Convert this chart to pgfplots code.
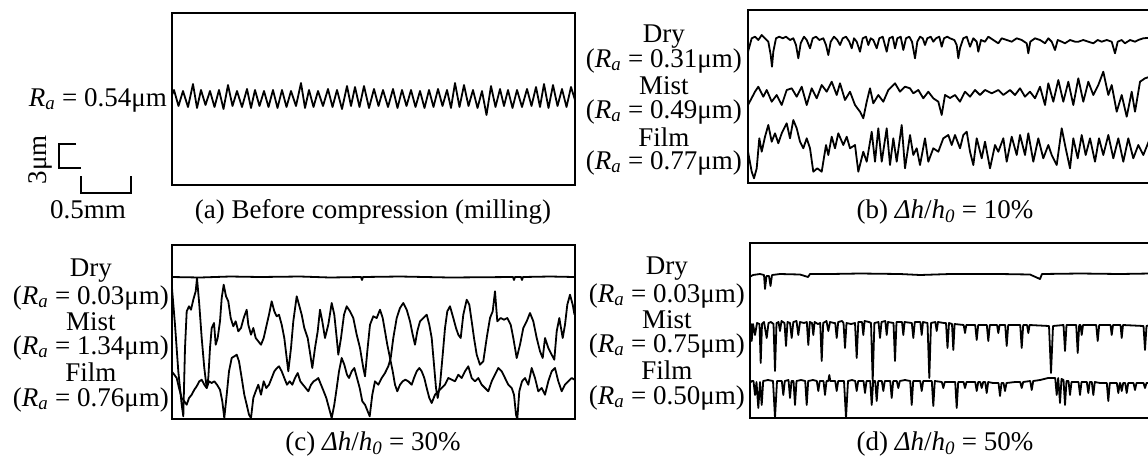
\documentclass[border=0pt]{standalone}
\usepackage{fontspec}
\setmainfont{Liberation Serif}
\usepackage{pgfplots}
\pgfplotsset{compat=1.18}

% one px of the reference = 1pt here
\pgfplotsset{
  prof/.style={scale only axis, ticks=none, y dir=reverse, clip=true,
    axis line style={line width=2pt}},
}
\tikzset{
  lab/.style={font=\fontsize{27}{30}\selectfont, inner sep=0pt},
  pl/.style={black, line width=1.8pt, line join=round, no marks},
}
\newcommand{\Ra}[1]{(\textit{R}\textsubscript{\textit{a}} = #1μm)}
\newcommand{\dhh}{\textit{Δh}/\textit{h}\textsubscript{\textit{0}}}

\begin{document}
\begin{tikzpicture}
\path[use as bounding box] (0,0) rectangle (1148pt,-461pt);

% ---------- (a) before compression
\begin{axis}[prof, at={(373.25pt,-99pt)}, anchor=center,
  width=403.5pt, height=172pt, xmin=171.5, xmax=575, ymin=13, ymax=185]
\addplot[pl] coordinates {(171.5,96) (174,90) (178.5,106) (183,91) (188,107) (193,84) (197,108) (201,90) (205.5,105) (210,91) (214.5,107) (219,90) (223.5,109) (228,85) (232.5,106) (237,91) (242,107) (247,89) (251,108) (255,90) (259.5,106) (264,91) (268.5,107) (273,90) (277.5,108) (282,90) (286.5,107) (291,91) (296,106) (301,83) (305,108) (309,90) (313.5,107) (318,91) (323,106) (328,89) (332.5,107) (337,90) (342,109) (347,86) (351,106) (355,87) (359.5,107) (364,86) (369,108) (374,89) (378.5,106) (383,90) (388,107) (393,89) (397.5,108) (402,90) (406.5,106) (411,90) (415.5,107) (420,91) (424.5,108) (429,90) (433.5,107) (438,89) (442.5,106) (447,90) (451,108) (455,83) (459.5,107) (464,85) (468.5,106) (473,90) (477.5,108) (482,91) (486.5,115) (491,86) (495.5,107) (500,89) (504,106) (508,90) (512.5,108) (517,90) (522,107) (527,89) (531.5,106) (536,87) (540,107) (544,84) (548.5,108) (553,85) (557.5,106) (562,89) (566.5,107) (571,87) (575,100)};
\end{axis}

% ---------- (b) 10%
\begin{axis}[prof, at={(949pt,-96.5pt)}, anchor=center,
  width=402pt, height=173pt, xmin=748, xmax=1150, ymin=10, ymax=183]
% dry
\addplot[pl] coordinates {(748,51.7) (751.7,38.3) (755,36.7) (758.3,40) (761.7,35) (765,38.3) (768.3,41.7) (770.7,55) (772,66.7) (773.3,51.7) (776,38.3) (779.3,36.7) (782.7,38.3) (786,36.7) (790,40) (793.3,38.3) (796,45) (798.3,58.3) (800.7,43.3) (804,36.7) (806.7,40) (810,48.3) (812.7,38.3) (816,36.7) (819.3,40) (823.3,38.3) (826,45) (828.3,55) (830.7,41.7) (834,36.7) (837.3,40) (840,45) (842.7,38.3) (846,36.7) (849.3,41.7) (851.7,48.3) (854,38.3) (856.7,41.7) (860,51.7) (862.7,38.3) (866,36.7) (868.3,45) (870.7,38.3) (873.3,40) (876.7,48.3) (879.3,38.3) (882.7,36.7) (886.7,51.7) (889.3,38.3) (892.7,36.7) (895,48.3) (897.3,38.3) (900.7,36.7) (903.3,50) (906,38.3) (909.3,36.7) (912,41.7) (915,58.3) (917.3,41.7) (920,36.7) (922.7,38.3) (925,45) (927.3,38.3) (930.7,36.7) (933.3,41.7) (936,38.3) (939.3,36.7) (941.7,46.7) (944,38.3) (947.3,36.7) (950,38.3) (954.3,40) (956.7,45) (958.3,58.3) (960,48.3) (963.3,38.3) (966.7,36.7) (970,46.7) (973.3,38.3) (976.7,41.7) (978.3,51.7) (981,40) (985,41.7) (988.3,36.7) (993.3,40) (998.3,43.3) (1001.7,38.3) (1006.7,40) (1011.7,41.7) (1016.7,38.3) (1021.7,40) (1026.7,43.3) (1028.3,53.3) (1030.3,41.7) (1035,38.3) (1040,40) (1045,43.3) (1048.3,38.3) (1051.7,41.7) (1055,50) (1057.7,40) (1061.7,41.7) (1065,43.3) (1070,40) (1075,41.7) (1078.3,41.7) (1083.3,40) (1088.3,41.7) (1093.3,43.3) (1097.7,40) (1101.7,41.7) (1106.7,40) (1111.7,41.7) (1115,53.3) (1117.7,41.7) (1121.7,40) (1125,43.3) (1130,40) (1135,41.7) (1138.3,40) (1143.3,38.3) (1150,37.7)};
% mist
\addplot[pl] coordinates {(748,105) (755,91.7) (758.3,86.7) (763.3,96.7) (766.7,90) (771.7,101.7) (776.7,95) (781.7,105) (786.7,90) (791.7,88.3) (796.7,96.7) (801.7,86.7) (806.7,105) (811.7,88.3) (816.7,98.3) (821.7,85) (826.7,91.7) (831.7,81.7) (836.7,95) (840,83.3) (845,100) (850,91.7) (855,105) (860,111.7) (863.3,118.3) (866.7,101.7) (870,88.3) (873.3,103.3) (878.3,95) (883.3,101.7) (888.3,90) (895,83.3) (900,91.7) (905,86.7) (910,88.3) (913.3,93.3) (918.3,90) (923.3,98.3) (928.3,91.7) (933.3,98.3) (938.3,101.7) (941.7,115) (945,95) (950,98) (955,95) (960,101.7) (965,91.7) (970,96.7) (975,90) (980,95) (985,90) (991.7,93.3) (998.3,90) (1003.3,95) (1010,90) (1015,95) (1020,88.3) (1025,96.7) (1030,91.7) (1035,98.3) (1040,86.7) (1045,105) (1048.3,83.3) (1053.3,101.7) (1058.3,80) (1063.3,101.7) (1068.3,81.7) (1073.3,105) (1078.3,78.3) (1083.3,101.7) (1088.3,81.7) (1093.3,95) (1098.3,85) (1103.3,71.7) (1108.3,95) (1111.7,85) (1116.7,111.7) (1121.7,95) (1126.7,116.7) (1131.7,91.7) (1135,111.7) (1140,81.7) (1145,78.3) (1150,76.7)};
% film
\addplot[pl] coordinates {(748,151.7) (751.7,171.7) (754,178.3) (756.7,168.3) (759.3,138.3) (761.7,151.7) (765,136.7) (768.3,125) (771.7,141.7) (775,133.3) (778.3,143.3) (781.7,133.3) (786.7,123.3) (790,138.3) (793.3,120) (796.7,128.3) (800,141.7) (803.3,148.3) (806.7,138.3) (810,148.3) (813.3,171.7) (817.3,168.3) (821.7,171.7) (826,145) (828.3,155) (831.7,136.7) (835,148.3) (838.3,133.3) (843.3,145) (846.7,136.7) (850,148.3) (855,145) (858.3,171.7) (863.3,151.7) (866.7,161.7) (871.7,131.7) (875,161.7) (878.3,128.3) (881.7,161.7) (886.7,128.3) (890,165) (893.3,138.3) (896.7,161.7) (901.7,125) (905,168.3) (910,135) (913.3,155) (916.7,148.3) (920,165) (925,138.3) (928.3,161.7) (933.3,148.3) (938.3,151.7) (943.3,138.3) (948.3,135) (951.7,145) (955,135) (960,148.3) (963.3,135) (966.7,131.7) (970,151.7) (973.3,165) (976.7,138.3) (981.7,158.3) (985,141.7) (990,168.3) (995,145) (998.3,151.7) (1003.3,138.3) (1006.7,161.7) (1011.7,136.7) (1016.7,155) (1020,135) (1025,155) (1028.3,133.3) (1033.3,161.7) (1038.3,138.3) (1043.3,158.3) (1048.3,145) (1051.7,155) (1056.7,165) (1061.7,128.3) (1065.7,148.3) (1070,168.3) (1073.3,138.3) (1077.7,158.3) (1081.7,135) (1085.7,155) (1090,138.3) (1095,161.7) (1099,138.3) (1103.3,155) (1108.3,135) (1113.3,158.3) (1118.3,138.3) (1123.3,161.7) (1128.3,138.3) (1133.3,158.3) (1138.3,145) (1143.3,155) (1150,138.3)};
\end{axis}

% ---------- (c) 30%
\begin{axis}[prof, at={(373pt,-332pt)}, anchor=center,
  width=403pt, height=174pt, xmin=171.5, xmax=574.5, ymin=245, ymax=419]
% dry
\addplot[pl] coordinates {(171.5,277) (200,277.5) (230,276.5) (260,277) (300,276.5) (330,277.5) (361,277) (362,280) (363,277) (400,276.5) (450,277.5) (513,277) (514,280) (515,277) (521,277) (522,280) (523,277) (550,276.5) (574.5,277)};
% mist
\addplot[pl] coordinates {(171.7,284.7) (175,324.7) (178.3,371.3) (181.7,404.7) (183.3,416.3) (185,348) (186.7,311.3) (189,306.3) (191,309.7) (193.3,299.7) (195.7,291.3) (197,278) (199.3,304.7) (201.7,338) (204.3,368) (206.7,388) (208.3,378) (210,348) (211.7,328) (214,323) (215.7,344.7) (217.7,338) (220,321.3) (221.7,298) (223.7,284.7) (226,296.3) (228.3,301.3) (230.7,318) (233.3,326.3) (235.7,321.3) (238.3,331.3) (241,328) (243.7,318) (246.7,309.7) (248.3,324.7) (251,334.7) (253.3,328) (255.7,338) (258.3,341.3) (261,344.7) (263.7,338) (266.7,324.7) (269,314.7) (271.7,301.3) (274.3,311.3) (276.7,316.3) (279,314.7) (281.7,324.7) (284.3,338) (286.7,358) (288.3,371.3) (291,348) (293.3,321.3) (296.7,296.3) (299,304.7) (301.7,314.7) (304.3,328) (307.7,338) (310.3,354.7) (312.3,368) (315,348) (317.7,331.3) (320,309.7) (322.3,321.3) (325,338) (328.3,324.7) (331.7,303) (334.3,314.7) (336.7,338) (338.3,354.7) (341,338) (344,314.7) (346.7,306.3) (350,311.3) (353.3,318) (356.7,334.7) (360,348) (363.3,368) (365,376.3) (367.3,351.3) (370,324.7) (373.3,316.3) (376.7,318) (380,309.7) (382.7,318) (385,331.3) (387.3,344.7) (390,358) (392.7,371.3) (395,384.7) (397.3,391.3) (400,384.7) (402.7,381.3) (405.3,379.7) (408.3,381.3) (411.7,384.7) (414,378) (416.7,371.3) (419.3,368) (421.7,371.3) (424.3,378) (426.7,388) (429.3,398) (431.7,403) (435,394.7) (438.3,391.3) (441.7,388) (445,384.7) (448.3,378) (451.7,379.7) (455,381.3) (458.3,374.7) (461.7,378) (465,371.3) (468.3,366.3) (471.7,378) (475,381.3) (478.3,378) (481.7,384.7) (485,388) (488.3,391.3) (491.7,381.3) (495,374.7) (498.3,368) (501.7,371.3) (505,378) (508.3,384.7) (511.7,388) (514,394.7) (516,414.7) (517.3,419) (519.3,391.3) (522,381.3) (525,378) (528.3,384.7) (531.7,368) (535,378) (538.3,391.3) (541.7,388) (545,394.7) (548.3,381.3) (551.7,371.3) (555,368) (558.3,381.3) (561.7,391.3) (565,384.7) (568.3,381.3) (571.7,378) (574.5,379.7)};
% film
\addplot[pl] coordinates {(171.7,371.3) (174.3,374.7) (176.7,378) (179,388) (181.7,398) (184.3,401.3) (186.7,404.7) (189,398) (191.7,394.7) (194.3,389.7) (196.7,386.3) (199.3,381.3) (201.7,379.7) (204.3,384.7) (206.7,388) (209,381.3) (211.7,383) (214.3,381.3) (217,384.7) (220,389.7) (222.3,401.3) (224.3,418) (226.7,394.7) (229,371.3) (231.7,358) (234.3,356.3) (236.7,354.7) (239,361.3) (241.7,378) (244.3,394.7) (246.7,404.7) (249,414.7) (251,418) (253.3,398) (255.7,391.3) (258.3,384.7) (261,394.7) (263.7,381.3) (266.3,388) (269,384.7) (271.7,378) (274.3,371.3) (277,368) (279,366.3) (281.7,371.3) (284.3,378) (287,384.7) (289.7,381.3) (292.3,384.7) (295,378) (297.7,373) (300.3,381.3) (303,384.7) (305.7,388) (308.3,391.3) (311,384.7) (313.7,381.3) (316.3,379.7) (318.3,378) (321,384.7) (323.7,391.3) (326.3,398) (329,408) (331.7,418) (334.3,404.7) (336.7,388) (339,371.3) (341.7,358) (344.3,364.7) (347,374.7) (349,378) (351.7,371.3) (354.3,368) (357,378) (359.7,388) (362.3,401.3) (365,404.7) (367.7,411.3) (369.7,416.3) (372.3,394.7) (375,381.3) (378.3,384.7) (381.7,378) (385,373) (388.3,366.3) (390.7,358) (393.3,338) (396.7,318) (400,308) (403.3,303) (406.7,309.7) (410,321.3) (412.7,334.7) (415,344.7) (417.3,331.3) (420,321.3) (423.3,318) (426.7,314.7) (429.3,324.7) (431.7,338) (434,364.7) (436,388) (437.7,398) (440,384.7) (442.7,354.7) (445,328) (447.3,311.3) (450,306.3) (453.3,318) (456,328) (458.3,334.7) (460.7,338) (463.3,314.7) (466.7,299.7) (469.3,304.7) (471.7,321.3) (474,338) (476.7,354.7) (480,364.7) (483.3,361.3) (486.7,338) (490,318) (492.7,311.3) (495,291.3) (497.3,321.3) (500.7,318) (504,319.7) (507.3,318) (510.7,324.7) (513.3,338) (516.7,358) (520,344.7) (523.3,328) (526.7,321.3) (530,313) (533.3,321.3) (536.7,338) (540,351.3) (542.7,358) (545,338) (548.3,348) (551.7,354.7) (554.3,359.7) (556.7,331.3) (559.3,318) (562.7,338) (565,324.7) (567.3,304.7) (570,294.7) (572.7,304.7) (574.5,314.7)};
\end{axis}

% ---------- (d) 50%
\begin{axis}[prof, at={(949.75pt,-330.5pt)}, anchor=center,
  width=400.5pt, height=175pt, xmin=749.5, xmax=1150, ymin=243, ymax=418]
% dry
\addplot[pl] coordinates {(749.5,277) (753,275) (760,274) (764,275) (765,289) (766.5,276) (769,276) (770.5,286) (772,275) (780,274) (800,274.5) (808,277) (810,274) (830,274) (860,273.5) (900,274) (920,275) (950,274) (1000,274) (1030,274.5) (1040,279) (1042,274) (1080,273.5) (1120,274) (1150,273.5)};
% mist
\addplot[pl] coordinates {(749.5,328) (751,324) (751.7,341) (753,324) (755,335) (757,323) (759.5,324) (760.7,363) (762,324) (764,322) (766.7,338) (768.5,323) (771,322) (773.5,324) (775,371) (776.5,323) (778.5,322) (780,331) (781.5,321) (784.5,323) (786,346) (787.5,322) (790,323) (791.7,338) (793.3,322) (796.5,321) (798.3,335) (800,322) (804,323) (806.8,322) (808.3,345) (809.8,322) (812,323) (813.3,335) (814.6,322) (818,324) (820.2,323) (821.7,361) (823.2,323) (826.5,321) (828.3,331) (830,322) (834,323) (835.2,323) (836.7,338) (838.2,322) (842,321) (843.5,323) (845,348) (846.5,323) (851,324) (855,323) (856.7,358) (858.3,322) (862,322) (863.3,335) (864.6,321) (869,322) (871,323) (872.7,381) (874.4,323) (878.5,322) (880,338) (881.5,322) (885.3,321) (886.7,335) (888,322) (893.5,323) (895,361) (896.5,322) (902,322) (903.3,335) (904.6,322) (911.8,323) (913.3,338) (914.8,322) (920.3,322) (921.7,335) (923,322) (927.5,323) (929.3,378) (931,323) (935.3,322) (936.7,331) (938,322) (944,323) (946,323) (947.5,348) (949,323) (952,324) (953.3,350) (954.6,324) (963.7,325) (965,333) (966.3,325) (975.2,325) (976.7,340) (978.2,325) (986.8,325) (988.3,341) (989.8,325) (997,325) (998.3,333) (999.6,325) (1005.2,325) (1006.7,346) (1008.2,325) (1020.2,325) (1021.7,348) (1023.2,325) (1027,325) (1028.3,333) (1029.6,325) (1049,326) (1051,373) (1053,326) (1063.5,325) (1065,351) (1066.5,325) (1076.2,325) (1077.7,353) (1079.2,325) (1080.5,325) (1081.7,335) (1083,325) (1096.2,325) (1097.7,341) (1099.2,325) (1110.5,325) (1111.7,335) (1113,325) (1120.5,325) (1121.7,338) (1123,325) (1143.5,326) (1145,350) (1146.5,326) (1150,325)};
% film
\addplot[pl] coordinates {(749.5,383) (752,381) (753.5,381) (755,395) (756.5,382) (758.3,408) (760,382) (761.7,405) (763.2,381) (768,380) (773,381) (775,418) (777,381) (781.8,381) (783.3,395) (784.8,381) (788.5,380) (790,398) (791.5,381) (793.5,381) (795,405) (796.5,381) (801,380) (805.2,381) (806.7,405) (808.2,381) (813,380) (816.8,381) (818.3,391) (819.8,381) (823.5,381) (825,395) (826.5,381) (828.3,381) (829.3,375) (830.3,381) (835.2,381) (836.7,391) (838.2,381) (844,381) (846,418) (848,381) (852,380) (855.2,381) (856.7,391) (858.2,381) (863.5,381) (865,393) (866.5,381) (870.2,381) (871.7,405) (873.2,381) (875.2,381) (876.7,401) (878.2,381) (881.8,381) (883.3,391) (884.8,381) (890.2,381) (891.7,398) (893.2,381) (896.8,381) (898.3,388) (899.8,381) (905,380) (910.2,381) (911.7,405) (913.2,381) (920.2,381) (921.7,391) (923.2,381) (931.8,381) (933.3,406) (934.8,381) (941.8,382) (943.3,388) (944.8,382) (950,382) (955.2,382) (956.7,408) (958.2,382) (963.5,382) (965,388) (966.5,382) (975.2,382) (976.7,391) (978.2,382) (980.2,382) (981.7,388) (983.2,382) (985.2,382) (986.7,393) (988.2,382) (993,383) (998.5,383) (1000,396) (1001.5,383) (1003.5,383) (1005,391) (1006.5,383) (1015,382) (1020.2,382) (1021.7,388) (1023.2,382) (1030.2,381) (1031.7,390) (1033.2,381) (1040,380) (1048,378) (1055.2,378) (1056.7,395) (1058.2,378) (1060,403) (1061.5,379) (1063.5,380) (1065,405) (1066.5,381) (1068.5,381) (1070,395) (1071.5,382) (1078.5,382) (1080,395) (1081.5,382) (1086.8,382) (1088.3,393) (1089.8,382) (1091.8,382) (1093.3,395) (1094.8,382) (1100,383) (1106.8,383) (1108.3,401) (1109.8,383) (1116.8,383) (1118.3,393) (1119.8,383) (1120.2,383) (1121.7,391) (1123.2,383) (1125.2,383) (1126.7,393) (1128.2,383) (1133.5,383) (1135,390) (1136.5,383) (1143.5,383) (1145,388) (1146.5,383) (1150,383)};
\end{axis}

% ---------- texts
\node[lab, anchor=base east] at (167pt,-106pt) {\textit{R}\textsubscript{\textit{a}} = 0.54μm};
\node[lab, anchor=base, rotate=90] at (46pt,-160pt) {3μm};
\draw[line width=1.8pt] (76pt,-144pt) -- (59pt,-144pt) -- (59pt,-168pt) -- (81pt,-168pt);
\draw[line width=1.8pt] (81pt,-176pt) -- (81pt,-193pt) -- (131pt,-193pt) -- (131pt,-176pt);
\node[lab, anchor=base] at (88pt,-218pt) {0.5mm};
\node[lab, anchor=base] at (373pt,-218pt) {(a) Before compression (milling)};
\node[lab, anchor=base] at (945pt,-218pt) {(b) \dhh{} = 10\%};
\node[lab, anchor=base] at (373pt,-450pt) {(c) \dhh{} = 30\%};
\node[lab, anchor=base] at (945pt,-450pt) {(d) \dhh{} = 50\%};

% (b) labels
\node[lab, anchor=base east] (b1) at (742pt,-67pt) {\Ra{0.31}};
\node[lab, anchor=base] at (b1.center |- 0,-42pt) {Dry};
\node[lab, anchor=base east] (b2) at (742pt,-118pt) {\Ra{0.49}};
\node[lab, anchor=base] at (b2.center |- 0,-94pt) {Mist};
\node[lab, anchor=base east] (b3) at (742pt,-169pt) {\Ra{0.77}};
\node[lab, anchor=base] at (b3.center |- 0,-146pt) {Film};
% (c) labels
\node[lab, anchor=base east] (c1) at (169pt,-304pt) {\Ra{0.03}};
\node[lab, anchor=base] at (c1.center |- 0,-276pt) {Dry};
\node[lab, anchor=base east] (c2) at (169pt,-354pt) {\Ra{1.34}};
\node[lab, anchor=base] at (c2.center |- 0,-330pt) {Mist};
\node[lab, anchor=base east] (c3) at (169pt,-406pt) {\Ra{0.76}};
\node[lab, anchor=base] at (c3.center |- 0,-381pt) {Film};
% (d) labels
\node[lab, anchor=base east] (d1) at (745pt,-302pt) {\Ra{0.03}};
\node[lab, anchor=base] at (d1.center |- 0,-274pt) {Dry};
\node[lab, anchor=base east] (d2) at (745pt,-352pt) {\Ra{0.75}};
\node[lab, anchor=base] at (d2.center |- 0,-328pt) {Mist};
\node[lab, anchor=base east] (d3) at (745pt,-404pt) {\Ra{0.50}};
\node[lab, anchor=base] at (d3.center |- 0,-379pt) {Film};
\end{tikzpicture}
\end{document}
